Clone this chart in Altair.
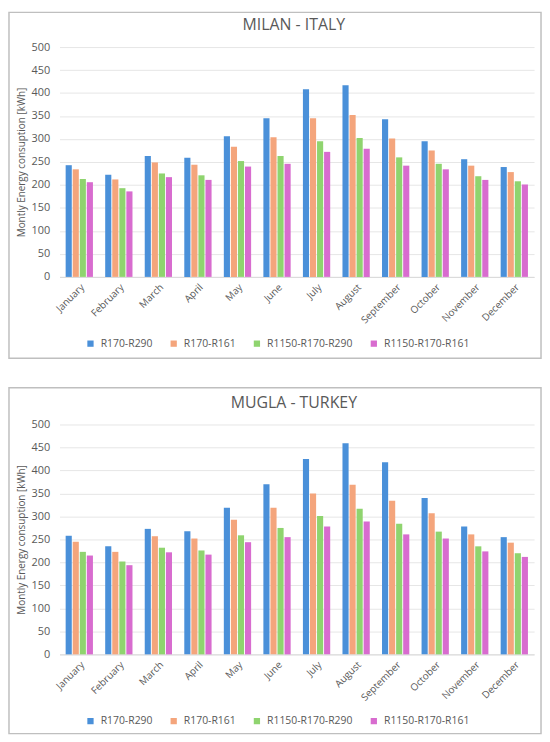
import altair as alt
import pandas as pd

months = ["January", "February", "March", "April", "May", "June", "July",
          "August", "September", "October", "November", "December"]
series = ["R170-R290", "R170-R161", "R1150-R170-R290", "R1150-R170-R161"]
colors = ["#4a90d9", "#f4a57c", "#8fd46f", "#d86ccf"]

milan_r170_r290 = [243, 222, 263, 259, 306, 345, 408, 417, 343, 295, 256, 239]
milan_r170_r161 = [234, 212, 249, 244, 283, 304, 345, 352, 301, 275, 242, 228]
milan_r1150_r290 = [213, 193, 225, 221, 252, 263, 295, 302, 260, 246, 219, 208]
milan_r1150_r161 = [206, 186, 217, 211, 240, 246, 272, 279, 242, 234, 211, 201]

mugla_r170_r290 = [258, 235, 273, 268, 319, 370, 425, 459, 418, 340, 278, 255]
mugla_r170_r161 = [245, 223, 257, 252, 293, 319, 350, 369, 334, 307, 261, 243]
mugla_r1150_r290 = [223, 202, 232, 226, 259, 275, 301, 317, 284, 267, 235, 220]
mugla_r1150_r161 = [215, 194, 222, 217, 244, 255, 278, 289, 261, 252, 224, 212]

y_ticks = [0, 50, 100, 150, 200, 250, 300, 350, 400, 450, 500]
y_title = "Montly Energy consuption [kWh]"

W, H = 479, 232
GREY = "#595959"


def long_df(lists):
    rows = []
    for s, vals in zip(series, lists):
        for m, v in zip(months, vals):
            rows.append({"Month": m, "Series": s, "Value": v})
    return pd.DataFrame(rows)


def panel(lists, title, rect_top, rect_bottom):
    df = long_df(lists)
    one = pd.DataFrame({"k": [0]})
    border = alt.Chart(one).mark_rect(filled=False, stroke="#bfbfbf", strokeWidth=1.5).encode(
        x=alt.value(-51), x2=alt.value(W + 7), y=alt.value(rect_top), y2=alt.value(rect_bottom)
    )
    ttl = alt.Chart(one).mark_text(text=title, fontSize=16, color=GREY, font="Open Sans").encode(
        x=alt.value(W / 2 - 3), y=alt.value(-22)
    )
    bars = alt.Chart(df).mark_bar().encode(
        x=alt.X("Month:N", sort=months,
                scale=alt.Scale(paddingInner=0.31, paddingOuter=0.155),
                axis=alt.Axis(title=None, labelAngle=-45, labelFontSize=10, labelColor=GREY,
                              ticks=False, domainColor="#d9d9d9", labelPadding=5)),
        xOffset=alt.XOffset("Series:N", sort=series, scale=alt.Scale(paddingInner=0.13)),
        y=alt.Y("Value:Q", scale=alt.Scale(domain=[0, 500]),
                axis=alt.Axis(values=y_ticks, title=y_title, titleFontSize=10,
                              titleFontWeight="normal", titleColor=GREY, titlePadding=4,
                              labelFontSize=11, labelColor=GREY, labelPadding=10,
                              ticks=False, domain=False, gridColor="#e6e6e6")),
        color=alt.Color("Series:N", sort=series,
                        scale=alt.Scale(domain=series, range=colors),
                        legend=alt.Legend(title=None, orient="none", legendX=26, legendY=294,
                                          direction="horizontal", symbolType="square",
                                          symbolSize=40, labelFontSize=10.5, labelColor=GREY,
                                          columnPadding=16, labelOffset=5)),
    )
    return alt.layer(border, ttl, bars).properties(width=W, height=H)


top = panel([milan_r170_r290, milan_r170_r161, milan_r1150_r290, milan_r1150_r161],
            "MILAN - ITALY", -35, 314)
bottom = panel([mugla_r170_r290, mugla_r170_r161, mugla_r1150_r290, mugla_r1150_r161],
               "MUGLA - TURKEY", -37, 312)

chart = alt.vconcat(top, bottom, spacing=28).resolve_scale(color="independent").resolve_legend(
    color="independent"
).properties(padding=0).configure(
    font="Open Sans"
).configure_view(strokeWidth=0)

chart.save("out.html", embed_options={"renderer": "svg", "actions": False})
